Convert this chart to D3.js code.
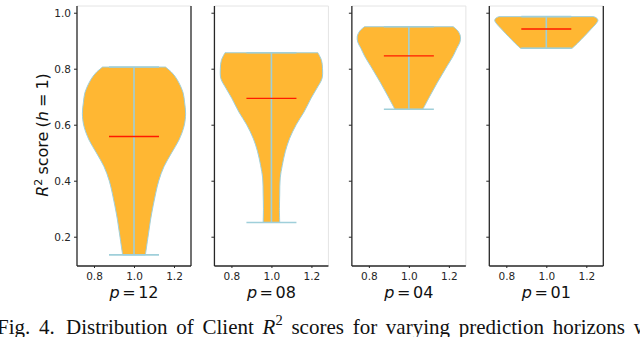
<!DOCTYPE html>
<html>
<head>
<meta charset="utf-8">
<script src="https://cdn.jsdelivr.net/npm/d3@7"></script>
<style>
  body { margin: 0; background: #fff; }
  svg { display: block; }
</style>
</head>
<body>
<div id="chart"></div>
<script>
// prediction horizons, one violin each
var horizons = ["12", "08", "04", "01"];
var maxes   = [0.806, 0.857, 0.950, 0.986];
var mins    = [0.135, 0.251, 0.655, 0.873];
var medians = [0.558, 0.694, 0.846, 0.942];

// density outline of each violin (value -> relative half width)
var p12Vals  = [0.135, 0.16, 0.21, 0.26, 0.31, 0.355, 0.40, 0.45, 0.50, 0.545, 0.595, 0.64, 0.68, 0.715, 0.76, 0.785, 0.806];
var p12Width = [0.22, 0.24, 0.28, 0.32, 0.37, 0.42, 0.48, 0.58, 0.73, 0.87, 0.97, 1.0, 0.98, 0.95, 0.84, 0.74, 0.61];
var p08Vals  = [0.251, 0.30, 0.35, 0.41, 0.455, 0.505, 0.55, 0.60, 0.645, 0.695, 0.73, 0.765, 0.80, 0.83, 0.857];
var p08Width = [0.16, 0.155, 0.16, 0.17, 0.21, 0.27, 0.35, 0.48, 0.63, 0.77, 0.88, 0.98, 0.99, 0.97, 0.9];
var p04Vals  = [0.655, 0.70, 0.75, 0.80, 0.846, 0.873, 0.895, 0.915, 0.935, 0.950];
var p04Width = [0.27, 0.40, 0.55, 0.71, 0.86, 0.93, 0.99, 1.0, 0.95, 0.86];
var p01Vals  = [0.873, 0.89, 0.905, 0.926, 0.942, 0.96, 0.972, 0.98, 0.986];
var p01Width = [0.5, 0.6, 0.68, 0.79, 0.87, 0.96, 1.0, 0.98, 0.92];

var yTicks = [0.2, 0.4, 0.6, 0.8, 1.0];
var xTicks = [0.8, 1.0, 1.2];

var profiles = [[p12Vals, p12Width], [p08Vals, p08Width], [p04Vals, p04Width], [p01Vals, p01Width]];

var W = 640, H = 337;
var plotTop = 6, plotBottom = 266;
var dark = "#262626", faint = "#e4e4e4";
var fillCol = "#ffb733", edgeCol = "#9fcfda", medCol = "#ff1a00";
var halfMax = 0.258, capHalf = 0.125;

var svg = d3.select("#chart").append("svg")
  .attr("width", W)
  .attr("height", H);

var panel = d3.scaleBand().domain(horizons).range([77, 603.3]).paddingInner(0.1705).paddingOuter(0);
var y = d3.scaleLinear().domain([0.0954, 1.024]).range([plotBottom, plotTop]);

horizons.forEach(function(h, i) {
  var left = panel(h), w = panel.bandwidth();
  var x = d3.scaleLinear().domain([0.715, 1.285]).range([left, left + w]);
  var g = svg.append("g");

  // violin body
  var pts = profiles[i][0].map(function(v, k) { return {v: v, w: profiles[i][1][k]}; });
  var area = d3.area()
    .y(function(d) { return y(d.v); })
    .x0(function(d) { return x(1 - d.w * halfMax); })
    .x1(function(d) { return x(1 + d.w * halfMax); })
    .curve(d3.curveCatmullRom.alpha(0.5));
  g.append("path")
    .datum(pts)
    .attr("d", area)
    .attr("fill", fillCol)
    .attr("stroke", edgeCol)
    .attr("stroke-width", 1);

  // bar + caps
  g.append("line")
    .attr("x1", x(1)).attr("x2", x(1))
    .attr("y1", y(mins[i])).attr("y2", y(maxes[i]))
    .attr("stroke", edgeCol).attr("stroke-width", 1.6);
  [mins[i], maxes[i]].forEach(function(v) {
    g.append("line")
      .attr("x1", x(1 - capHalf)).attr("x2", x(1 + capHalf))
      .attr("y1", y(v)).attr("y2", y(v))
      .attr("stroke", edgeCol).attr("stroke-width", 1.6);
  });
  g.append("line")
    .attr("x1", x(1 - capHalf)).attr("x2", x(1 + capHalf))
    .attr("y1", y(medians[i])).attr("y2", y(medians[i]))
    .attr("stroke", medCol).attr("stroke-width", 1.4);

  // spines
  var rightDark = (i == 0 || i == 3);
  g.append("line").attr("x1", left).attr("x2", left + w).attr("y1", plotTop).attr("y2", plotTop)
    .attr("stroke", faint).attr("stroke-width", 1);
  g.append("line").attr("x1", left + w).attr("x2", left + w).attr("y1", plotTop).attr("y2", plotBottom)
    .attr("stroke", rightDark ? dark : faint).attr("stroke-width", rightDark ? 1.3 : 1);
  g.append("line").attr("x1", left).attr("x2", left).attr("y1", plotTop).attr("y2", plotBottom)
    .attr("stroke", dark).attr("stroke-width", 1.3);
  g.append("line").attr("x1", left).attr("x2", left + w).attr("y1", plotBottom).attr("y2", plotBottom)
    .attr("stroke", dark).attr("stroke-width", 1.3);

  // y axis
  var ya = g.append("g").attr("transform", "translate(" + left + ",0)")
    .call(d3.axisLeft(y).tickValues(yTicks).tickSize(3)
      .tickFormat(i == 0 ? d3.format(".1f") : function() { return ""; }));
  ya.select(".domain").remove();
  ya.selectAll("line").attr("stroke", dark);
  ya.selectAll("text").attr("fill", dark)
    .style("font-family", "DejaVu Sans").style("font-size", "10.5px");

  // x axis
  var xa = g.append("g").attr("transform", "translate(0," + plotBottom + ")")
    .call(d3.axisBottom(x).tickValues(xTicks).tickSize(2).tickPadding(5).tickFormat(d3.format(".1f")));
  xa.select(".domain").remove();
  xa.selectAll("line").attr("stroke", dark);
  xa.selectAll("text").attr("fill", dark)
    .style("font-family", "DejaVu Sans").style("font-size", "10.5px");

  // x label (mathtext-like tight spacing)
  var lab = svg.append("text")
    .attr("x", left + w / 2).attr("y", 298)
    .attr("text-anchor", "middle")
    .style("font-family", "DejaVu Sans").style("font-size", "16px")
    .style("word-spacing", "-2.5px")
    .attr("fill", "#111");
  lab.append("tspan").style("font-style", "italic").text("p");
  lab.append("tspan").text(" = " + h);
});

// y label
var yl = svg.append("text")
  .attr("transform", "translate(48,135) rotate(-90)")
  .attr("text-anchor", "middle")
  .style("font-family", "DejaVu Sans").style("font-size", "16px")
  .style("word-spacing", "-1px")
  .attr("fill", "#111");
yl.append("tspan").style("font-style", "italic").text("R");
yl.append("tspan").attr("dy", -6).style("font-size", "11px").text("2");
yl.append("tspan").attr("dy", 6).text(" score (");
yl.append("tspan").style("font-style", "italic").text("h");
yl.append("tspan").text(" = 1)");

// caption (cut off by the page edge, justified in the paper)
var cap = svg.append("text")
  .attr("y", 334)
  .style("font-family", "Liberation Serif").style("font-size", "21px")
  .style("word-spacing", "3.5px")
  .attr("fill", "#111");
cap.append("tspan").attr("x", -3).text("Fig. 4.");
cap.append("tspan").attr("x", 66).text("Distribution of Client ");
cap.append("tspan").style("font-style", "italic").text("R");
cap.append("tspan").attr("dy", -9).style("font-size", "14.5px").text("2");
cap.append("tspan").attr("dy", 9).text(" scores for varying prediction horizons with");
</script>
</body>
</html>
